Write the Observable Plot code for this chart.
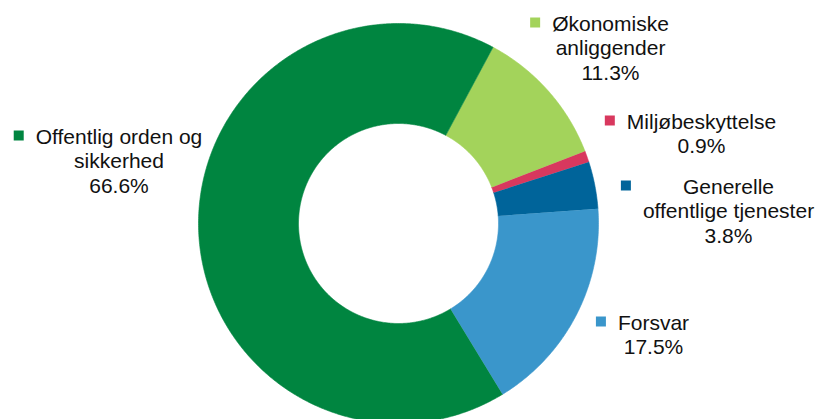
<!DOCTYPE html>
<html><head><meta charset="utf-8">
<script src="https://cdn.jsdelivr.net/npm/d3@7"></script>
<script src="https://cdn.jsdelivr.net/npm/@observablehq/plot@0.6"></script>
<style>body{margin:0;background:#fff}</style>
</head><body><div id="chart"></div>
<script>
// ---- data ----
const categories = ["Økonomiske anliggender", "Miljøbeskyttelse", "Generelle offentlige tjenester", "Forsvar", "Offentlig orden og sikkerhed"];
const labelLines = ["Økonomiske\nanliggender", "Miljøbeskyttelse", "Generelle\noffentlige tjenester", "Forsvar", "Offentlig orden og\nsikkerhed"];
const shares = [11.3, 0.9, 3.8, 17.5, 66.6];
const colors = ["#a3d35b", "#d8385e", "#00649a", "#3a96cb", "#008540"];

// ---- layout (unit frame: ring centre = 0, outer radius = 1) ----
const startDeg = 28.2;
const innerRatio = 0.5;
const labelX = [1.06, 1.515, 1.65, 1.275, -1.3975];
const labelY = [0.965, 0.475, 0.15, -0.53, 0.40];
const fontSize = 21, lineHeight = 1.167;
const fontFamily = '"Liberation Sans", Arial, Helvetica, sans-serif';
const pxPerUnit = 200;

const rad = d => d * Math.PI / 180;
const arcs = d3.pie().sort(null).value(d => d)
  .startAngle(rad(startDeg)).endAngle(rad(startDeg + 360))(shares);

const ring = [];
arcs.forEach((a, i) => {
  const n = Math.max(2, Math.ceil((a.endAngle - a.startAngle) / rad(0.5)));
  for (let k = 0; k <= n; k++) {
    const t = a.startAngle + (a.endAngle - a.startAngle) * k / n;
    ring.push({cat: categories[i], x: Math.sin(t), y: Math.cos(t)});
  }
  for (let k = n; k >= 0; k--) {
    const t = a.startAngle + (a.endAngle - a.startAngle) * k / n;
    ring.push({cat: categories[i], x: innerRatio * Math.sin(t), y: innerRatio * Math.cos(t)});
  }
});

const ctx = document.createElement("canvas").getContext("2d");
ctx.font = `${fontSize}px ${fontFamily}`;
const labels = categories.map((c, i) => {
  const text = labelLines[i] + "\n" + shares[i].toFixed(1) + "%";
  const maxW = d3.max(text.split("\n"), s => ctx.measureText(s).width);
  return {
    cat: c, text, x: labelX[i], y: labelY[i],
    kx: labelX[i] - (maxW / 2 + 17) / pxPerUnit,
    ky: labelY[i] + 8 / pxPerUnit
  };
});

const chart = Plot.plot({
  width: 825, height: 419, margin: 0,
  x: {domain: [-1, 1], range: [198, 598], axis: null},
  y: {domain: [-1, 1], range: [423, 23], axis: null},
  color: {domain: categories, range: colors},
  style: {fontFamily, background: "#fff"},
  marks: [
    Plot.line(ring, {x: "x", y: "y", z: "cat", fill: "cat", stroke: "cat", strokeWidth: 0.6, curve: "linear"}),
    Plot.dot(labels, {x: "kx", y: "ky", symbol: "square", r: 10 / Math.sqrt(Math.PI), fill: "cat", stroke: null}),
    Plot.text(labels, {x: "x", y: "y", text: "text", fontSize, lineHeight, lineAnchor: "top",
      textAnchor: "middle", dy: -0.71 * lineHeight * fontSize, fill: "#111"})
  ]
});
document.getElementById("chart").appendChild(chart);
</script>
</body></html>
